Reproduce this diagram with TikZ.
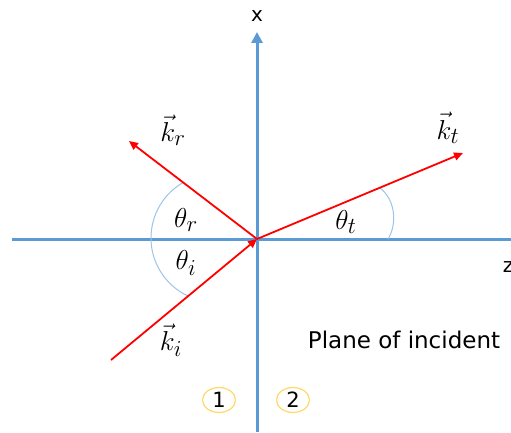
\documentclass[tikz,border=0pt]{standalone}
\usepackage{fontspec}
\setsansfont{DejaVu Sans}
\usetikzlibrary{arrows.meta,shapes.geometric}
\definecolor{axisblue}{RGB}{91,155,213}
\definecolor{arcblue}{RGB}{157,195,230}
\definecolor{rayred}{RGB}{255,0,0}
\definecolor{circyellow}{RGB}{255,217,102}
\tikzset{
  axis/.style={draw=axisblue, line width=3pt},
  ray/.style={draw=rayred, line width=1.8pt, -{Triangle[length=9pt,width=8pt]}},
  anglearc/.style={draw=arcblue, line width=1pt},
  mlabel/.style={font=\fontsize{24.88}{27}\selectfont, inner sep=0pt, scale=1.1},
  slabel/.style={font=\sffamily\fontsize{23}{25}\selectfont, inner sep=0pt},
  axlabel/.style={font=\sffamily\fontsize{20}{22}\selectfont, inner sep=0pt},
  numcirc/.style={draw=circyellow, line width=1.2pt, ellipse, minimum width=33pt, minimum height=25pt, inner sep=0pt, font=\sffamily\fontsize{21}{23}\selectfont},
}
\begin{document}
\begin{tikzpicture}[x=1pt,y=1pt]
\useasboundingbox (0,0) rectangle (511,432);
% coordinates
\coordinate (O) at (257,193);
\coordinate (vb) at (257,0);
\coordinate (vt) at (257,400);
\coordinate (hl) at (12,193);
\coordinate (hr) at (511,193);
\coordinate (is) at (111,72);
\coordinate (rt) at (129,291);
\coordinate (tt) at (463,279);
% axes
\draw[axis] (hl) -- (hr);
\draw[axis, -{Triangle[length=11pt,width=11pt]}] (vb) -- (vt);
% arcs
\draw[anglearc] (215,194) ++(120:64) arc[start angle=120, end angle=246, radius=64];
\draw[anglearc] (380,244) .. controls (396,232) and (397,207) .. (388,193);
% rays
\draw[ray] (is) -- (O);
\draw[ray] (O) -- (rt);
\draw[ray] (O) -- (tt);
% labels
\node[axlabel] (xl) at (257,416) {x};
\node[axlabel] (zl) at (508,165) {z};
\node[mlabel] (kr) at (173,302) {$\vec{k}_r$};
\node[mlabel] (thr) at (186,212) {$\theta_r$};
\node[mlabel] (thi) at (186,169) {$\theta_i$};
\node[mlabel] (ki) at (171,92) {$\vec{k}_i$};
\node[mlabel] (kt) at (448,304) {$\vec{k}_t$};
\node[mlabel] (tht) at (346,210) {$\theta_t$};
\node[slabel] (pl) at (404,92) {Plane of incident};
\node[numcirc] (c1) at (219,32) {1};
\node[numcirc] (c2) at (293,32) {2};
\end{tikzpicture}
\end{document}
